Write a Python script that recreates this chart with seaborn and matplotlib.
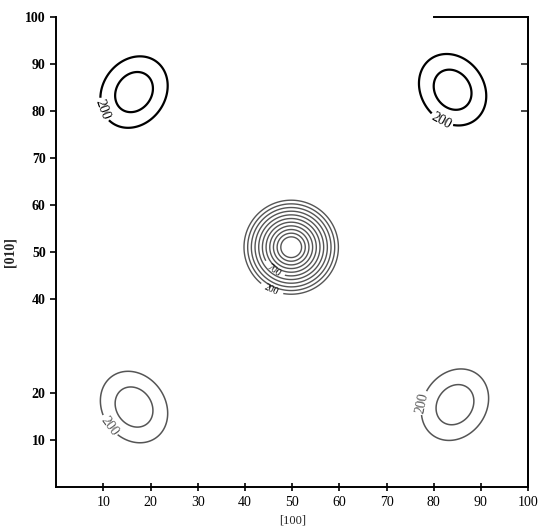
"""Contour map of the [100]/[010] plane, redrawn from the scanned figure."""
import matplotlib
matplotlib.use("Agg")
import matplotlib.pyplot as plt
import numpy as np
import seaborn as sns

sns.set_theme(style="white")
plt.rcParams["font.family"] = ["Liberation Serif", "DejaVu Serif"]

# corner peaks (in axis units)
peak_x = [16.5, 84.0, 16.5, 84.5]
peak_y = [84.0, 84.5, 17.0, 17.5]
peak_tilt = [55, -55, -55, 55]          # major axis angle, degrees
corner_levels = [200, 300]
corner_radii = [7.3, 4.1]               # radius of each level above
label_pos = [(10.6, 80.5), (82.0, 78.5), (12.0, 13.6), (77.2, 18.0)]

# central peak, concentric rings
center_x, center_y = 49.8, 51.0
ring_levels = list(range(200, 1300, 100))
ring_outer_r, ring_inner_r = 10.0, 2.2
ring_label_pos = [(46.0, 46.0), (45.5, 41.6)]

xticks = [10, 20, 30, 40, 50, 60, 70, 80, 90, 100]
yticks = [10, 20, 40, 50, 60, 70, 80, 90, 100]

grid = np.linspace(0, 100, 601)
X, Y = np.meshgrid(grid, grid)

fig = plt.figure(figsize=(5.4, 5.27), dpi=100)
ax = fig.add_axes([0.104, 0.076, 0.874, 0.892])

# corner ellipses: cone fields so the two levels land on the read radii
slope = (corner_levels[1] - corner_levels[0]) / (corner_radii[0] - corner_radii[1])
peak_h = corner_levels[0] + slope * corner_radii[0]
for px, py, tilt, lp in zip(peak_x, peak_y, peak_tilt, label_pos):
    t = np.deg2rad(tilt)
    u = (X - px) * np.cos(t) + (Y - py) * np.sin(t)
    v = -(X - px) * np.sin(t) + (Y - py) * np.cos(t)
    d = np.sqrt((u / 1.1) ** 2 + (v / 0.91) ** 2)
    Z = peak_h - slope * d
    col = "black" if py > 50 else "#555555"
    lw = 1.6 if py > 50 else 1.1
    cs = ax.contour(X, Y, Z, levels=corner_levels, colors=col, linewidths=lw)
    ax.clabel(cs, manual=[lp], fmt="%d", fontsize=10, inline=True,
              inline_spacing=2)

# central rings
r = np.hypot(X - center_x, Y - center_y)
ring_slope = (ring_levels[-1] - ring_levels[0]) / (ring_outer_r - ring_inner_r)
Zc = ring_levels[0] + ring_slope * (ring_outer_r - r)
cs = ax.contour(X, Y, Zc, levels=ring_levels, colors="#555555", linewidths=1.0)
ax.clabel(cs, manual=ring_label_pos, fmt="%d", fontsize=7, inline=True,
          colors="black")

ax.set_xlim(0, 100)
ax.set_ylim(0, 100)
ax.set_xticks(xticks)
ax.set_yticks(yticks)
ax.tick_params(axis="both", labelsize=10, length=4, width=1.2, colors="black",
               left=True, bottom=True)
ax.tick_params(axis="x", direction="inout", length=6)
for lab in ax.get_yticklabels():
    lab.set_fontweight("bold")

for side in ["left", "bottom", "right"]:
    ax.spines[side].set_color("black")
    ax.spines[side].set_linewidth(1.4)
ax.spines["top"].set_color("black")
ax.spines["top"].set_linewidth(1.4)
ax.spines["top"].set_bounds(80, 100)

sec = ax.secondary_yaxis("right")
sec.set_yticks([80, 90])
sec.tick_params(direction="in", length=5, width=1.2, labelright=False)
sec.spines["right"].set_linewidth(1.4)

ax.set_xlabel("[100]", fontsize=9, labelpad=4)
ax.set_ylabel("[010]", fontsize=10, fontweight="bold", labelpad=6)

fig.savefig("out.png", dpi=100)
